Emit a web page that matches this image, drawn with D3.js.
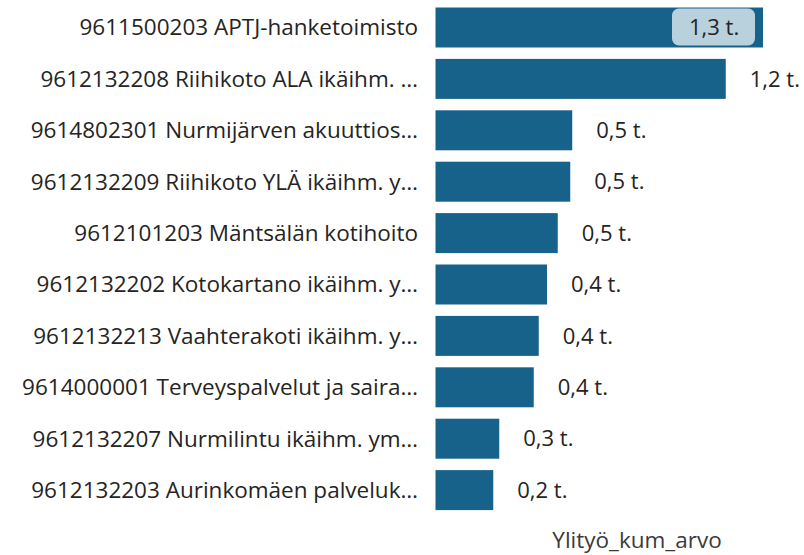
<!DOCTYPE html>
<html>
<head>
<meta charset="utf-8">
<script src="https://cdn.jsdelivr.net/npm/d3@7"></script>
<style>
  html, body { margin: 0; padding: 0; background: #ffffff; }
  #chart { width: 804px; height: 555px; }
  text { font-family: "Open Sans", "Noto Sans", sans-serif; }
</style>
</head>
<body>
<div id="chart"></div>
<script>
const categories = [
  "9611500203 APTJ-hanketoimisto",
  "9612132208 Riihikoto ALA ikäihm. …",
  "9614802301 Nurmijärven akuuttios…",
  "9612132209 Riihikoto YLÄ ikäihm. y…",
  "9612101203 Mäntsälän kotihoito",
  "9612132202 Kotokartano ikäihm. y…",
  "9612132213 Vaahterakoti ikäihm. y…",
  "9614000001 Terveyspalvelut ja saira…",
  "9612132207 Nurmilintu ikäihm. ym…",
  "9612132203 Aurinkomäen palveluk…"
];
const values = [1310, 1161, 547, 539, 489, 446, 413, 393, 255, 231];
const axisTitle = "Ylityö_kum_arvo";

(function() {
  const width = 804, height = 555;
  const data = categories.map((c, i) => ({ name: c, value: values[i] }));

  const svg = d3.select("#chart")
    .append("svg")
    .attr("width", width)
    .attr("height", height);

  const x = d3.scaleLinear()
    .domain([0, d3.max(values)])
    .range([435.5, 763]);

  const y = d3.scaleBand()
    .domain(categories)
    .range([7.5, 510.1])
    .paddingInner(0.222)
    .paddingOuter(0);

  const fi = d3.formatLocale({ decimal: ",", thousands: "\u00a0", grouping: [3], currency: ["", "€"] });
  const fmt = v => fi.format(".1f")(v / 1000) + " t.";

  // category labels
  svg.append("g")
    .attr("transform", "translate(418,0)")
    .call(d3.axisLeft(y).tickSize(0).tickPadding(0))
    .call(g => g.select(".domain").remove())
    .selectAll("text")
    .attr("dy", "0.35em")
    .style("font-family", "'Open Sans', sans-serif")
    .style("font-size", "22.5px")
    .style("fill", "#252423");

  svg.append("g").selectAll("rect")
    .data(data)
    .join("rect")
    .attr("x", x(0))
    .attr("y", d => y(d.name))
    .attr("width", d => x(d.value) - x(0))
    .attr("height", y.bandwidth())
    .attr("fill", "#17628a");

  const maxV = d3.max(values);
  const labels = svg.append("g").selectAll("g")
    .data(data)
    .join("g");

  labels.filter(d => d.value === maxV).append("rect")
    .attr("x", d => x(d.value) - 91)
    .attr("y", d => y(d.name) + 1)
    .attr("width", 83)
    .attr("height", y.bandwidth() - 3)
    .attr("rx", 7)
    .attr("fill", "#b9d0dd");

  labels.append("text")
    .attr("x", d => d.value === maxV ? x(d.value) - 74 : x(d.value) + 24)
    .attr("y", d => y(d.name) + y.bandwidth() / 2)
    .attr("dy", "0.35em")
    .style("font-size", "22px")
    .style("fill", "#252423")
    .text(d => fmt(d.value));

  svg.append("text")
    .attr("x", 637)
    .attr("y", 540)
    .attr("dy", "0.35em")
    .attr("text-anchor", "middle")
    .style("font-size", "22.5px")
    .style("fill", "#3b3a39")
    .text(axisTitle);
})();
</script>
</body>
</html>
